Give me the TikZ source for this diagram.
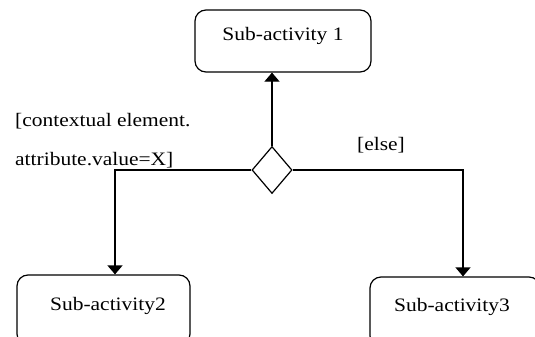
\documentclass[tikz,border=0pt]{standalone}
\usepackage{fontspec}
\usepackage{graphicx}
\setmainfont{Liberation Serif}
\usetikzlibrary{arrows.meta,shapes.geometric}
\newcommand{\wide}[1]{\scalebox{1.13}[1]{#1}}
\tikzset{
  box/.style={draw, line width=1.2pt, rounded corners=11pt, inner sep=0pt},
  txt/.style={inner sep=0pt, font=\fontsize{19}{22}\selectfont},
  decision/.style={draw, diamond, line width=1.2pt, inner sep=0pt, minimum width=40pt, minimum height=47pt},
  flow/.style={line width=1.2pt, -{Triangle[width=15pt,length=9pt]}}
}
\begin{document}
\begin{tikzpicture}[x=1pt,y=-1pt]
\useasboundingbox (0,0) rectangle (535,337);
\clip (0,0) rectangle (535,337);
% boxes
\node[box, minimum width=176pt, minimum height=62pt] (b1) at (283,41) {};
\node[txt] (t1) at (283,36) {\wide{Sub-activity 1}};
\node[box, minimum width=173pt, minimum height=70pt] (b2) at (103.5,310) {};
\node[txt] (t2) at (108,306) {\wide{Sub-activity2}};
\node[box, minimum width=170pt, minimum height=70pt] (b3) at (455,312) {};
\node[txt] (t3) at (452,307) {\wide{Sub-activity3}};
% decision
\node[decision] (d) at (272,170) {};
% labels
\node[txt, anchor=west] (l1) at (15,121) {\wide{[contextual element.}};
\node[txt, anchor=west] (l2) at (15,160) {\wide{attribute.value=X]}};
\node[txt] (l3) at (381,145) {\wide{[else]}};
% connectors
\draw[flow] (d.north) -- (d.north |- b1.south);
\draw[flow] (d.west) -| ([xshift=11.5pt]b2.north);
\draw[flow] (d.east) -| ([xshift=8pt]b3.north);
\end{tikzpicture}
\end{document}
